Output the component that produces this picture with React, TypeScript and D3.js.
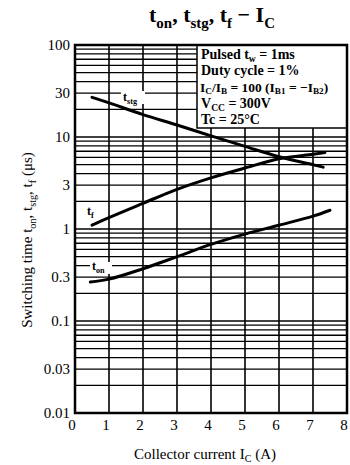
import * as d3 from "d3";

// collector current ticks (A)
const icTicks = [0, 1, 2, 3, 4, 5, 6, 7, 8];
// switching time tick labels (us)
const timeTicks = [100, 30, 10, 3, 1, 0.3, 0.1, 0.03, 0.01];
const timeTickLabels = ["100", "30", "10", "3", "1", "0.3", "0.1", "0.03", "0.01"];

// t_stg curve
const icStg = [0.5, 1, 2, 3, 4, 5, 6, 7, 7.3];
const tStg = [27, 23.5, 17.5, 13.5, 10.3, 7.9, 6.1, 5.0, 4.7];
// t_f curve
const icF = [0.5, 1, 2, 3, 4, 5, 6, 7, 7.35];
const tF = [1.1, 1.33, 1.9, 2.7, 3.6, 4.6, 5.8, 6.5, 6.8];
// t_on curve
const icOn = [0.45, 1, 2, 3, 4, 5, 6, 7, 7.5];
const tOn = [0.265, 0.285, 0.37, 0.5, 0.68, 0.88, 1.1, 1.38, 1.6];

type Part = { t: string; sub?: boolean };

function SubText({ x, y, parts, size, weight, anchor, transform, shift }: {
  x: number; y: number; parts: Part[]; size: number; weight?: string; anchor?: string; transform?: string; shift?: number;
}) {
  // subscripts done with dy so they work everywhere
  const sh = size * (shift ?? 0.28);
  let prevSub = false;
  return (
    <text x={x} y={y} fontSize={size} fontWeight={weight || "normal"} textAnchor={anchor || "start"} transform={transform}>
      {parts.map((p, i) => {
        let dy = 0;
        if (p.sub && !prevSub) dy = sh;
        if (!p.sub && prevSub) dy = -sh;
        prevSub = !!p.sub;
        return (
          <tspan key={i} dy={dy} fontSize={p.sub ? size * 0.68 : size}>{p.t}</tspan>
        );
      })}
    </text>
  );
}

export default function App() {
  const W = 350, H = 465;
  const left = 75, right = 347, top = 45, bottom = 413;

  const x = d3.scaleLinear().domain([0, 8]).range([left, right]);
  const y = d3.scaleLog().domain([0.01, 100]).range([bottom, top]);

  const gridY = y.ticks();
  const line = d3.line<[number, number]>()
    .x((d) => x(d[0]))
    .y((d) => y(d[1]))
    .curve(d3.curveCatmullRom.alpha(0.5));

  const curves = [
    icStg.map((v, i) => [v, tStg[i]] as [number, number]),
    icF.map((v, i) => [v, tF[i]] as [number, number]),
    icOn.map((v, i) => [v, tOn[i]] as [number, number]),
  ];

  const font = "'Liberation Serif', 'DejaVu Serif', serif";

  return (
    <svg width={W} height={H} style={{ position: "absolute", left: 0, top: 0, background: "#fff" }} fontFamily={font}>
      {/* title */}
      <SubText x={212} y={22} size={22} weight="bold" anchor="middle"
        parts={[{ t: "t" }, { t: "on", sub: true }, { t: ", t" }, { t: "stg", sub: true }, { t: ", t" }, { t: "f", sub: true }, { t: " − I" }, { t: "C", sub: true }]} />

      {/* horizontal log grid */}
      {gridY.map((v, i) => (
        <line key={"h" + i} x1={left} x2={right} y1={y(v)} y2={y(v)} stroke="#000" strokeWidth={1.3} />
      ))}
      {/* vertical grid */}
      {icTicks.map((v) => (
        <line key={"v" + v} x1={x(v)} x2={x(v)} y1={top} y2={bottom} stroke="#000" strokeWidth={1.6} />
      ))}

      {/* conditions box */}
      <rect x={197} y={top} width={right - 197} height={83} fill="#fff" stroke="#000" strokeWidth={1.5} />
      <SubText x={201} y={59} size={14} weight="bold" shift={0.18} parts={[{ t: "Pulsed t" }, { t: "w", sub: true }, { t: " = 1ms" }]} />
      <SubText x={201} y={75} size={14} weight="bold" parts={[{ t: "Duty cycle = 1%" }]} />
      <SubText x={200} y={92} size={13.5} weight="bold" shift={0.18}
        parts={[{ t: "I" }, { t: "C", sub: true }, { t: "/I" }, { t: "B", sub: true }, { t: " = 100 (I" }, { t: "B1", sub: true }, { t: " = −I" }, { t: "B2", sub: true }, { t: ")" }]} />
      <SubText x={201} y={108} size={14} weight="bold" shift={0.18} parts={[{ t: "V" }, { t: "CC", sub: true }, { t: " = 300V" }]} />
      <SubText x={201} y={124} size={14} weight="bold" parts={[{ t: "Tc = 25°C" }]} />

      {/* curve labels */}
      <rect x={121} y={91} width={24} height={13} fill="#fff" />
      <SubText x={123} y={101} size={12} weight="bold" parts={[{ t: "t" }, { t: "stg", sub: true }]} />
      <rect x={85} y={205} width={12} height={14} fill="#fff" />
      <SubText x={87} y={215} size={12} weight="bold" parts={[{ t: "t" }, { t: "f", sub: true }]} />
      <rect x={90} y={262} width={22} height={12} fill="#fff" />
      <SubText x={92} y={270} size={12} weight="bold" parts={[{ t: "t" }, { t: "on", sub: true }]} />

      {/* curves */}
      {curves.map((c, i) => (
        <path key={"c" + i} d={line(c) || ""} fill="none" stroke="#000" strokeWidth={3} strokeLinecap="round" />
      ))}

      {/* frame */}
      <rect x={left} y={top} width={right - left} height={bottom - top} fill="none" stroke="#000" strokeWidth={2.5} />

      {/* y tick labels */}
      {timeTicks.map((v, i) => (
        <text key={"yt" + i} x={70} y={y(v) + 5} fontSize={15} textAnchor="end">{timeTickLabels[i]}</text>
      ))}
      {/* x tick labels */}
      {icTicks.map((v) => (
        <text key={"xt" + v} x={x(v) - 3} y={430} fontSize={15} textAnchor="middle">{v}</text>
      ))}

      {/* axis titles */}
      <text x={205} y={459} fontSize={15} textAnchor="middle">
        <tspan>Collector current I</tspan>
        <tspan fontSize={10} dy={3}>C</tspan>
        <tspan dy={-3}> (A)</tspan>
      </text>
      <SubText x={0} y={0} size={15} anchor="middle" transform="translate(32,240) rotate(-90)"
        parts={[{ t: "Switching time t" }, { t: "on", sub: true }, { t: ",  t" }, { t: "stg", sub: true }, { t: ",  t" }, { t: "f", sub: true }, { t: " (μs)" }]} />
    </svg>
  );
}
